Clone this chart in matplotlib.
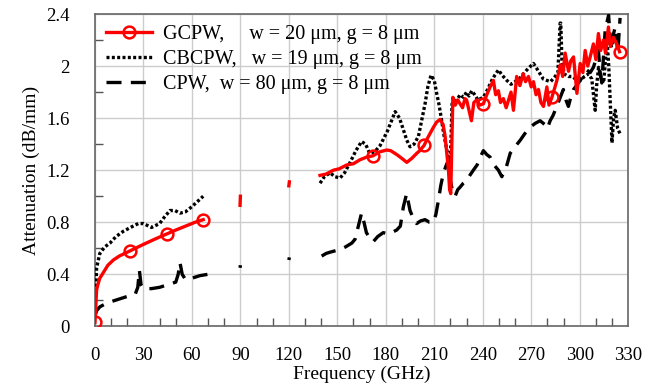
import numpy as np
import matplotlib

matplotlib.use("Agg")
import matplotlib.pyplot as plt  # noqa: E402
from matplotlib.ticker import MultipleLocator  # noqa: E402

plt.rcParams["font.family"] = ["Liberation Serif", "DejaVu Serif"]

NAN = np.nan

# GCPW (red, circles) - segments separated by NaN
GCPW_F = [0, 1, 2, 3, 5, 8, 11.4, 15, 21.7, 30, 37, 44.4, 50, 56, 62, 67, NAN,
          89.8, 90, NAN, 120, 120.3, NAN,
          139.3, 143, 147.6, 151, 155.8, 160, 164, 168, 172, 176, 180.5, 183, 186.8, 190, 193,
          196, 199.2, 201, 203.7, 206, 209.5, 211.5, 213.6, 215.5, 216.7, 218, 218.8, 219.5,
          220.2, 221.5, 223, 224.5, 226, 227.5, 229, 230, 231.5, 233, 234.5, 236.3, 238, 240.4,
          242.5, 244.6, 246.6, 248, 249.7, 251, 252.8, 254.5, 256, 257.5, 259, 261, 263, 265,
          266.5, 268.3, 270, 271.4, 273, 274.5, 276, 277.6, 279.7, 281, 282.8, 284.5, 285.9,
          288, 289.5, 291, 293.1, 294.5, 296.2, 298.3, 300.3, 302, 303.4, 305, 306.5, 308.5,
          310, 311.6, 313, 314.7, 316, 317.8, 319, 320.9, 323, 324.7]
GCPW_V = [0.03, 0.28, 0.33, 0.37, 0.41, 0.47, 0.51, 0.54, 0.58, 0.63, 0.67, 0.71, 0.74, 0.77, 0.80, 0.82, NAN,
          0.93, 1.00, NAN, 1.08, 1.11, NAN,
          1.16, 1.17, 1.20, 1.21, 1.24, 1.25, 1.28, 1.30, 1.31, 1.34, 1.355, 1.35, 1.32, 1.29, 1.26,
          1.29, 1.33, 1.35, 1.39, 1.45, 1.53, 1.57, 1.59, 1.55, 1.46, 1.30, 1.20, 1.05,
          1.02, 1.76, 1.70, 1.74, 1.71, 1.68, 1.75, 1.74, 1.66, 1.58, 1.72, 1.74, 1.70, 1.71,
          1.78, 1.84, 1.89, 1.78, 1.81, 1.72, 1.75, 1.68, 1.74, 1.80, 1.66, 1.92, 1.85, 1.94,
          1.88, 1.92, 1.84, 1.88, 1.78, 1.82, 1.72, 1.69, 1.84, 1.70, 1.76, 1.83, 1.89,
          2.01, 1.92, 2.10, 1.96, 2.04, 2.07, 1.79, 2.02, 1.95, 2.12, 2.00, 2.07, 2.17,
          2.05, 2.25, 2.12, 2.20, 2.10, 2.30, 2.15, 2.22, 2.17, 2.11]
GCPW_MARKS = [0, 21.7, 44.4, 67, 172, 203.7, 240.4, 282.8, 324.7]

# CBCPW (black dotted)
CBCPW_F = [0, 1, 3, 6, 9.3, 13, 17.5, 22, 26.8, 30, 35, 40, 43, 46.4, 49.5, 52.6, 56, 60, 63.5, 67, NAN,
           139.3, 142, 145.5, 148.5, 151.7, 154.5, 157.9, 161.5, 165, 167.5, 170, 173, 176.5, 181,
           185.8, 188.5, 190.9, 193, 195, 197.5, 200.2, 202, 204.3, 206, 208, 210, 211.5, 213,
           214.6, 216, 217.7, 219, 219.8, 221, 222.5, 224, 226, 228, 230, 231.5, 233.2, 235,
           237, 240.4, 243, 245.6, 247.5, 249.7, 252, 254.9, 257.5, 260, 262.5, 265.2, 268,
           271.4, 273.5, 275.5, 277.5, 279.6, 282, 284.8, 286.5, 287.9, 288.3, 289, 290.4,
           293, 295.2, 297.5, 300.3, 303, 305.5, 307.5, 309.6, 310.5, 311.7, 313, 314.8,
           316, 316.8, 318, 318.9, 320, 321, 322, 323.5, 325]
CBCPW_V = [0.10, 0.45, 0.56, 0.61, 0.64, 0.69, 0.73, 0.76, 0.79, 0.79, 0.76, 0.79, 0.84, 0.89, 0.89, 0.87, 0.88, 0.92, 0.96, 1.00, NAN,
           1.10, 1.15, 1.18, 1.15, 1.14, 1.18, 1.26, 1.35, 1.42, 1.40, 1.33, 1.34, 1.39, 1.50,
           1.65, 1.60, 1.51, 1.43, 1.38, 1.40, 1.46, 1.57, 1.71, 1.84, 1.93, 1.89, 1.79, 1.70,
           1.58, 1.47, 1.36, 1.28, 1.20, 1.71, 1.73, 1.74, 1.78, 1.76, 1.80, 1.77, 1.81, 1.78,
           1.74, 1.76, 1.82, 1.89, 1.93, 1.97, 1.93, 1.89, 1.86, 1.88, 1.90, 1.94, 1.98,
           2.02, 1.98, 1.94, 1.90, 1.89, 1.88, 1.92, 1.95, 2.33, 2.33, 2.05, 1.94,
           1.92, 1.92, 1.90, 1.89, 1.92, 1.94, 1.90, 1.66, 1.85, 1.99, 1.92, 1.87,
           2.05, 2.22, 2.00, 1.73, 1.41, 1.60, 1.66, 1.52, 1.48]

# CPW (black dashed)
CPW_F = [0, 1, 3, 6, 10, 15, 20, 25, 26.5, 27.5, 28.5, 30, 35, 40, 45, 50, 51.5, 52.6, 54, 56, 60, 65, 70, NAN,
         89.8, 90, NAN, 120, 120.3, NAN,
         140.3, 143, 145.5, 148.5, 151.7, 155, 159, 161, 163, 165, 166.5, 168, 170, 172.2, 175,
         178.4, 182, 186.7, 189, 190.9, 192.9, 195, 197, 199.1, 201.5, 204.3, 207, 209.5, 211,
         212.6, 214, 215.7, 217.5, 218.8, 220, 220.8, 222.9, 224.5, 226, 228, 230, 232, 234.2,
         236.5, 238.5, 240.4, 242.5, 244.6, 247, 249.7, 251.8, 254.5, 257, 260, 263.2, 266,
         269.3, 272.5, 275.5, 278.5, 280, 281.7, 283.5, 285.8, 288, 289.9, 291.5, 293, 294.5,
         296.2, 298, 300.3, 302.5, 304.4, 306.5, 308.5, 310, 311.6, 312.7, 313.7, 315.8, 317.9,
         319, 320, 321, 322, 323, 323.6, 325]
CPW_V = [0.08, 0.12, 0.15, 0.17, 0.19, 0.21, 0.23, 0.25, 0.30, 0.43, 0.32, 0.29, 0.29, 0.30, 0.32, 0.34, 0.40, 0.49, 0.40, 0.36, 0.37, 0.39, 0.40, NAN,
         0.45, 0.47, NAN, 0.51, 0.53, NAN,
         0.54, 0.56, 0.57, 0.58, 0.59, 0.61, 0.64, 0.67, 0.77, 0.87, 0.80, 0.72, 0.68, 0.65, 0.69,
         0.72, 0.71, 0.74, 0.77, 0.92, 1.02, 0.89, 0.83, 0.79, 0.81, 0.82, 0.80, 0.80, 0.86,
         0.97, 1.08, 1.18, 1.24, 1.28, 1.12, 1.07, 1.00, 1.05, 1.07, 1.10, 1.12, 1.16, 1.20,
         1.24, 1.30, 1.35, 1.32, 1.30, 1.24, 1.20, 1.15, 1.22, 1.33, 1.38, 1.43, 1.48,
         1.53, 1.56, 1.58, 1.55, 1.52, 1.58, 1.62, 1.69, 1.76, 1.82, 1.74, 1.69, 1.76,
         1.82, 1.85, 1.89, 1.93, 1.97, 1.95, 1.99, 2.05, 2.12, 1.95, 1.87, 2.28, 2.39,
         2.20, 2.12, 2.25, 2.30, 2.18, 2.10, 2.37]

gcpw_f = np.array(GCPW_F)
marks = [i for i, f in enumerate(gcpw_f) if np.any(np.isclose(f, GCPW_MARKS))]

fig, ax = plt.subplots(figsize=(6.55, 3.89), dpi=100)
fig.subplots_adjust(left=0.145, right=0.959, bottom=0.161, top=0.964)

ax.plot(gcpw_f, GCPW_V, color="#ff0000", linewidth=2.4, marker="o", markersize=8.5,
        markerfacecolor="none", markeredgewidth=1.8, markevery=marks,
        label="GCPW,     w = 20 μm, g = 8 μm", zorder=4)
ax.plot(CBCPW_F, CBCPW_V, color="black", linewidth=2.4, linestyle=(0, (0.9, 0.7)),
        label="CBCPW,   w = 19 μm, g = 8 μm", zorder=3)
ax.plot(CPW_F, CPW_V, color="black", linewidth=2.4, linestyle=(0, (4.5, 2.8)),
        label="CPW,  w = 80 μm, g = 8 μm", zorder=3)

ax.set_xlim(0, 330)
ax.set_ylim(0, 2.4)
ax.xaxis.set_major_locator(MultipleLocator(30))
ax.xaxis.set_minor_locator(MultipleLocator(10))
ax.yaxis.set_major_locator(MultipleLocator(0.4))
ax.yaxis.set_minor_locator(MultipleLocator(0.2))
ax.yaxis.set_major_formatter(plt.FuncFormatter(lambda v, _: f"{v:g}"))

ax.grid(True, which="major", color="#cccccc", linewidth=1)
ax.set_axisbelow(True)
ax.tick_params(which="major", length=0, pad=15, labelsize=13.5)
ax.tick_params(axis="y", which="major", pad=18)
ax.tick_params(which="minor", direction="in", length=6, width=1, color="#555555")
ax.tick_params(top=False, right=False, which="both")
for s in ax.spines.values():
    s.set_color("#666666")
    s.set_linewidth(1.2)

ax.set_xlabel("Frequency (GHz)", fontsize=14, labelpad=1)
ax.set_ylabel("Attenuation (dB/mm)", fontsize=14, labelpad=5)

leg = ax.legend(loc="upper left", frameon=False, fontsize=14.5, handlelength=2.3,
                handletextpad=0.55, borderaxespad=0.25, labelspacing=0.3,
                borderpad=0.3)

fig.savefig("out.png", dpi=100, facecolor="white")
